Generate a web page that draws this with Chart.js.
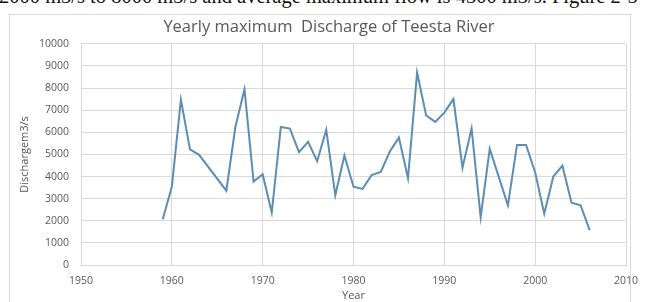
<!DOCTYPE html>
<html>
<head>
<meta charset="utf-8">
<script src="https://cdn.jsdelivr.net/npm/chart.js@4/dist/chart.umd.min.js"></script>
<style>
  html, body { margin: 0; padding: 0; background: #fff; width: 649px; height: 302px; overflow: hidden; }
  #caption {
    position: absolute; left: -1px; top: -14px; white-space: nowrap;
    font-family: "Liberation Serif", "DejaVu Serif", serif; font-size: 20.5px; line-height: 21px; color: #111;
  }
  #frame { position: absolute; left: 9px; top: 14px; width: 622px; height: 300px; border: 1px solid #d9d9d9; box-sizing: border-box; }
  #wrap { position: absolute; left: 9px; top: 14px; width: 640px; height: 288px; }
</style>
</head>
<body>
<div id="caption">2000 m3/s to 8000 m3/s and average maximum flow is 4300 m3/s. Figure 2-5</div>
<div id="frame"></div>
<div id="wrap"><canvas id="chart"></canvas></div>
<script>
// yearly maximum discharge (m3/s)
const years = [1959, 1960, 1961, 1962, 1963, 1966, 1967, 1968, 1969, 1970,
  1971, 1972, 1973, 1974, 1975, 1976, 1977, 1978, 1979, 1980,
  1981, 1982, 1983, 1984, 1985, 1986, 1987, 1988, 1989, 1990,
  1991, 1992, 1993, 1994, 1995, 1997, 1998, 1999, 2000, 2001,
  2002, 2003, 2004, 2005, 2006];
const discharge = [2070, 3540, 7470, 5230, 4980, 3360, 6250, 7950, 3770, 4100,
  2370, 6240, 6170, 5100, 5570, 4690, 6110, 3150, 4950, 3540,
  3440, 4070, 4210, 5130, 5760, 3920, 8700, 6760, 6470, 6890,
  7500, 4400, 6170, 2160, 5250, 2700, 5430, 5430, 4180, 2320,
  4000, 4490, 2820, 2700, 1580];
const xTicks = [1950, 1960, 1970, 1980, 1990, 2000, 2010];
const yTicks = [0, 1000, 2000, 3000, 4000, 5000, 6000, 7000, 8000, 9000, 10000];

const FONT = '"Open Sans", "Liberation Sans", sans-serif';
const GREY = '#595959';
const GRID = '#d9d9d9';

const points = years.map((y, i) => ({ x: y, y: discharge[i] }));

new Chart(document.getElementById('chart'), {
  type: 'line',
  data: {
    datasets: [{
      label: 'Discharge',
      data: points,
      borderColor: '#5b8db5',
      borderWidth: 2,
      pointRadius: 0,
      tension: 0,
      fill: false
    }]
  },
  options: {
    responsive: true,
    maintainAspectRatio: false,
    animation: false,
    layout: { padding: 0 },
    plugins: {
      legend: { display: false },
      tooltip: { enabled: false },
      title: {
        display: true,
        text: 'Yearly maximum  Discharge of Teesta River',
        color: GREY,
        font: { family: FONT, size: 16.5, weight: 'normal' },
        padding: { top: 3, bottom: 7 }
      }
    },
    scales: {
      x: {
        type: 'linear',
        min: xTicks[0],
        max: xTicks[xTicks.length - 1],
        afterBuildTicks: s => { s.ticks = xTicks.map(v => ({ value: v })); },
        afterFit: s => { s.height = 37; },
        ticks: {
          color: GREY, padding: 10,
          font: { family: FONT, size: 10.5 },
          callback: v => String(v),
          maxRotation: 0
        },
        grid: { color: GRID, drawTicks: false },
        border: { color: GRID },
        title: {
          display: true, text: 'Year', color: GREY,
          font: { family: FONT, size: 11 },
          padding: { top: 0, bottom: 0 }
        }
      },
      y: {
        min: yTicks[0],
        max: yTicks[yTicks.length - 1],
        afterBuildTicks: s => { s.ticks = yTicks.map(v => ({ value: v })); },
        afterFit: s => { s.width = 72; },
        ticks: {
          color: GREY, padding: 12,
          font: { family: FONT, size: 10.5 },
          callback: v => String(v)
        },
        grid: { color: GRID, drawTicks: false },
        border: { color: GRID },
        title: {
          display: true, text: 'Dischargem3/s', color: GREY,
          font: { family: FONT, size: 11 },
          padding: { top: 9, bottom: 0 }
        }
      },
      // empty right-hand axis, only reserves the space to the right of the plot
      yRight: {
        position: 'right',
        display: true,
        afterFit: s => { s.width = 23; },
        ticks: { display: false },
        grid: { display: false, drawTicks: false },
        border: { display: false }
      }
    }
  }
});
</script>
</body>
</html>
